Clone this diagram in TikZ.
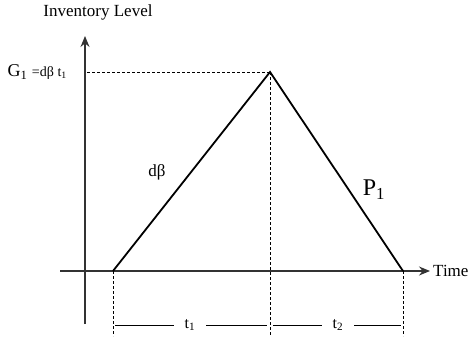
\documentclass[tikz,border=0pt]{standalone}
\usepackage{fontspec}
\setmainfont{Liberation Serif}
\usetikzlibrary{positioning, arrows.meta}

\begin{document}
\begin{tikzpicture}[
    x=1pt, y=-1pt,
    axis/.style={line width=1.3pt, draw=black!80, -{Stealth[length=11pt, width=9pt]}},
    stock/.style={line width=1.8pt},
    guide/.style={line width=0.8pt, dash pattern=on 3pt off 2pt},
    span/.style={line width=0.8pt},
    lbl/.style={font=\fontsize{17}{19}\selectfont, inner sep=1pt}
]
    \useasboundingbox (0,0) rectangle (470,343);

    % Achsen
    \coordinate (ybot) at (85,324);
    \coordinate (ytop) at (85,36);
    \coordinate (xleft) at (60,271);
    \coordinate (xright) at (430,271);
    \draw [axis] (ybot) -- (ytop);
    \draw [axis] (xleft) -- (xright);
    \node [lbl, anchor=south] (ylab) at (98,21) {Inventory Level};
    \node [lbl, right=2pt of xright] (xlab) {Time};

    % Dreieck des Lagerbestands
    \coordinate (start) at (113,271);
    \coordinate (peak) at (270,72);
    \coordinate (stop) at (403,271);
    \draw [stock] (start) -- (peak) -- (stop);
    \node [lbl] (rise) at (157,172) {dβ};
    \node [inner sep=1pt, font=\fontsize{24}{26}\selectfont] (fall) at (374,190) {P\textsubscript{1}};

    % Hilfslinien
    \coordinate (gmark) at (87,72);
    \node [inner sep=1pt, anchor=east] (glab) at (68,72)
        {\fontsize{18}{20}\selectfont G\textsubscript{1} {\fontsize{14}{16}\selectfont =dβ t\textsubscript{1}}};
    \coordinate (startb) at (113,336);
    \coordinate (peakb) at (270,336);
    \coordinate (stopb) at (403,336);
    \draw [guide] (gmark) -- (peak);
    \draw [guide] (start) -- (startb);
    \draw [guide] (peak) -- (peakb);
    \draw [guide] (stop) -- (stopb);

    % Zeitabschnitte
    \node [lbl, font=\fontsize{16}{18}\selectfont] (tone) at (190,325) {t\textsubscript{1}};
    \node [lbl, font=\fontsize{16}{18}\selectfont] (ttwo) at (338,325) {t\textsubscript{2}};
    \coordinate (a1) at (115,325);
    \coordinate (a2) at (267,325);
    \coordinate (b1) at (273,325);
    \coordinate (b2) at (401,325);
    \draw [span] (a1) -- ([xshift=-10pt]tone.west);
    \draw [span] ([xshift=10pt]tone.east) -- (a2);
    \draw [span] (b1) -- ([xshift=-10pt]ttwo.west);
    \draw [span] ([xshift=10pt]ttwo.east) -- (b2);

\end{tikzpicture}
\end{document}
